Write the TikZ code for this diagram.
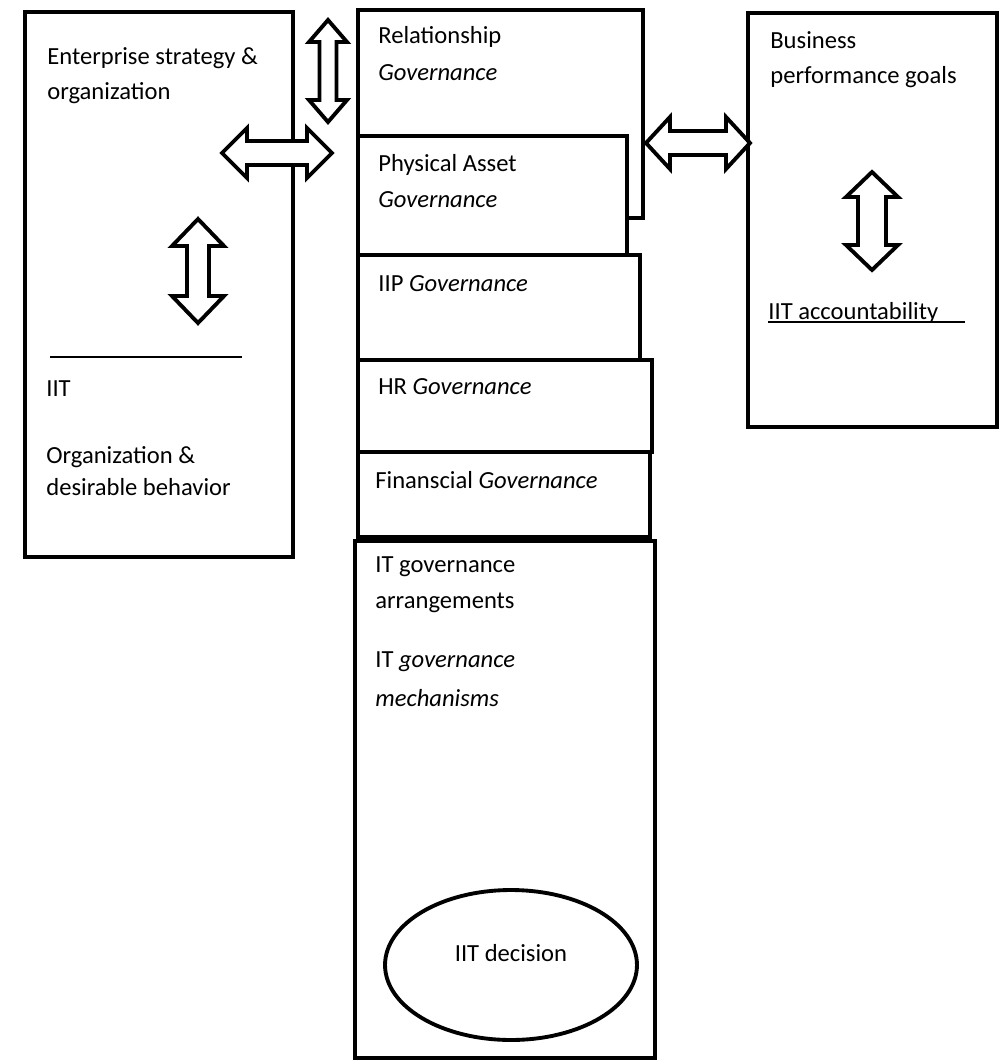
\documentclass[tikz,border=0pt]{standalone}
\usepackage{fontspec}
\setmainfont{Carlito}
\usetikzlibrary{shapes.geometric}

\newcommand{\dblarrow}[6]{%
	\draw[blockarrow,shift={(#1)},rotate=#2]
		(-#3,0) -- (-#3+#4,#5) -- (-#3+#4,#6) -- (#3-#4,#6) -- (#3-#4,#5) -- (#3,0)
		-- (#3-#4,-#5) -- (#3-#4,-#6) -- (-#3+#4,-#6) -- (-#3+#4,-#5) -- cycle;}

\begin{document}
\begin{tikzpicture}[x=0.02cm,y=-0.02cm,
		govbox/.style={draw,line width=2pt,fill=white},
		blockarrow/.style={draw,line width=2.2pt,fill=white,line join=miter},
		txt/.style={anchor=west,inner sep=0pt,font=\fontsize{14}{17}\selectfont}]
		%Page
		\fill[white] (0,0) rectangle (1002,1062);
		\useasboundingbox (0,0) rectangle (1002,1062);
		%Boxes
		\draw[govbox] (25,12) rectangle (293,557);
		\draw[govbox] (358,10) rectangle (643,218);
		\draw[govbox] (358,136) rectangle (627,255);
		\draw[govbox] (358,255) rectangle (640,360);
		\draw[govbox] (358,360) rectangle (652,452);
		\draw[govbox] (358,452) rectangle (650,537);
		\draw[govbox] (355,541) rectangle (655,1058);
		\draw[govbox] (748,13) rectangle (997,427);
		%Arrows
		\dblarrow{328,71}{90}{51}{22}{19}{8.5}
		\dblarrow{277,153}{0}{55}{25}{25}{12}
		\dblarrow{198,271}{90}{52}{27}{26}{11}
		\dblarrow{698,143}{0}{52}{24}{26}{12}
		\dblarrow{872,221}{90}{49}{25}{26}{14}
		\draw[line width=1.2pt] (50,357) -- (242,357);
		%Left texts
		\node[txt] (ent1) at (47,58) {Enterprise strategy \&};
		\node[txt] (ent2) at (47,93) {organization};
		\node[txt] (iit) at (46,389) {IIT};
		\node[txt] (org1) at (46,457) {Organization \&};
		\node[txt] (org2) at (46,487) {desirable behavior};
		%Governance texts
		\node[txt] (rel1) at (378,37) {Relationship};
		\node[txt] (rel2) at (378,73) {\textit{Governance}};
		\node[txt] (phy1) at (378,165) {Physical Asset};
		\node[txt] (phy2) at (378,200) {\textit{Governance}};
		\node[txt] (iip) at (378,284) {IIP \textit{Governance}};
		\node[txt] (hr) at (378,387) {HR \textit{Governance}};
		\node[txt] (fin) at (375,480) {Finanscial \textit{Governance}};
		\node[txt] (itg1) at (375,567) {IT governance};
		\node[txt] (itg2) at (375,603) {arrangements};
		\node[txt] (itm1) at (375,662) {IT \textit{governance}};
		\node[txt] (itm2) at (375,698) {\textit{mechanisms}};
		%Decision
		\node[draw,ellipse,line width=2.2pt,minimum width=5.04cm,minimum height=3cm] (decision) at (511,965) {};
		\node[txt,anchor=center] (dectext) at (511,953) {IIT decision};
		%Right texts
		\node[txt] (bus1) at (770,40) {Business};
		\node[txt] (bus2) at (770,77) {performance goals};
		\node[txt] (acc) at (768,313) {IIT accountability};
		\coordinate (accend) at (965,322);
		\draw[line width=0.9pt] (acc.west |- accend) -- (accend);
\end{tikzpicture}
\end{document}
